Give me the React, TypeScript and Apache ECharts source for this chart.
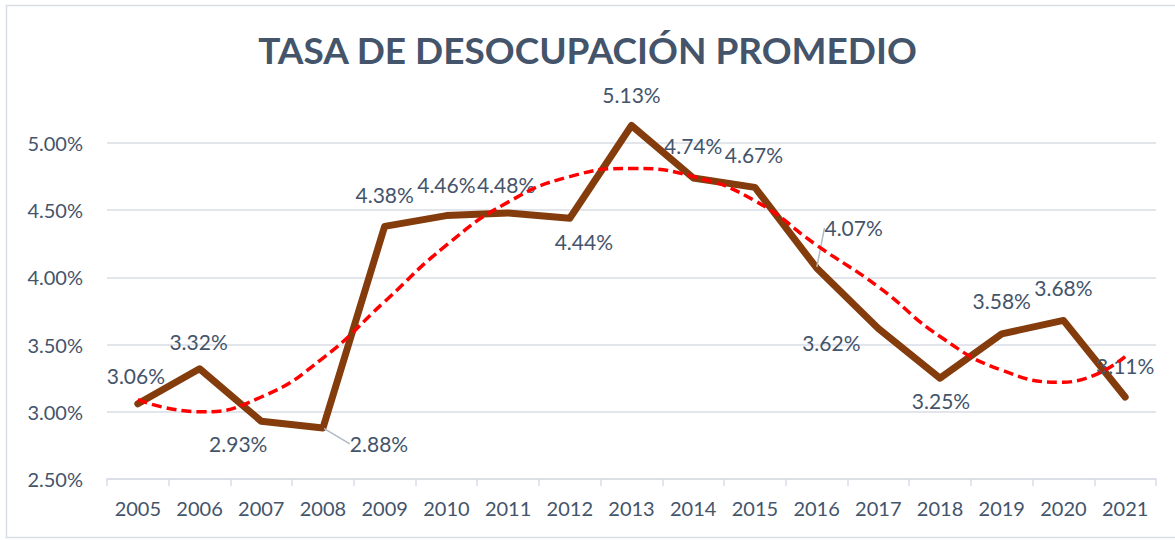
import React, { useEffect, useRef } from "react";
import * as echarts from "echarts";

const years = ["2005", "2006", "2007", "2008", "2009", "2010", "2011", "2012", "2013", "2014", "2015", "2016", "2017", "2018", "2019", "2020", "2021"];
const rates = [3.06, 3.32, 2.93, 2.88, 4.38, 4.46, 4.48, 4.44, 5.13, 4.74, 4.67, 4.07, 3.62, 3.25, 3.58, 3.68, 3.11];
const trend = [3.09, 3.0, 3.11, 3.4, 3.82, 4.24, 4.56, 4.75, 4.81, 4.75, 4.57, 4.24, 3.93, 3.56, 3.31, 3.22, 3.41];
const yTicks = { min: 2.5, max: 5.0, interval: 0.5 };
const titleText = "TASA DE DESOCUPACIÓN PROMEDIO";

// label placement (styling): offset from point, and whether a leader line is shown
const labelOffsets: [number, number][] = [
  [-2, -28], [-1, -27], [-23, 22], [56, 16], [0, -32], [0, -31], [-2, -28], [14, 23], [0, -31],
  [0, -32], [-1, -33], [37, -40], [-47, 14], [1, 22], [0, -33], [0, -33], [0, -32],
];
const leaderLines = [3, 11];

const TEXT = "#44546A";
const GRID = "#D9DEE6";
const FONT = "Lato, 'Open Sans', sans-serif";

export default function App() {
  const ref = useRef<HTMLDivElement>(null);
  useEffect(() => {
    if (!ref.current) return;
    const chart = echarts.init(ref.current, null, { renderer: "svg" });
    const option: any = {
      animation: false,
      backgroundColor: "#FFFFFF",
      textStyle: { fontFamily: FONT },
      title: {
        text: titleText,
        left: "center",
        top: 26,
        textStyle: { fontFamily: FONT, fontSize: 37, fontWeight: "bold", color: TEXT },
      },
      graphic: [
        {
          type: "rect",
          shape: { x: 6.5, y: 5.5, width: 1190, height: 532 },
          style: { fill: "none", stroke: GRID, lineWidth: 1.5 },
          silent: true,
          z: -10,
        },
      ],
      grid: { left: 107, right: 19, top: 143, bottom: 61, containLabel: false },
      xAxis: {
        type: "category",
        data: years,
        boundaryGap: true,
        axisLine: { show: true, lineStyle: { color: GRID, width: 1.5 } },
        axisTick: { show: true, length: 7, lineStyle: { color: GRID, width: 1.5 } },
        axisLabel: { color: TEXT, fontSize: 20, fontFamily: FONT, margin: 19 },
        splitLine: { show: false },
      },
      yAxis: {
        type: "value",
        min: yTicks.min,
        max: yTicks.max,
        interval: yTicks.interval,
        axisLine: { show: false },
        axisTick: { show: false },
        axisLabel: {
          color: TEXT,
          fontSize: 20,
          fontFamily: FONT,
          margin: 24,
          formatter: (v: number) => v.toFixed(2) + "%",
        },
        splitLine: { show: true, lineStyle: { color: GRID, width: 1.5 } },
      },
      series: [
        {
          type: "line",
          data: rates.map((v, i) => ({
            value: v,
            label: { offset: labelOffsets[i] },
            labelLine: { show: leaderLines.includes(i) },
          })),
          clip: false,
          symbol: "circle",
          symbolSize: 2,
          showSymbol: true,
          itemStyle: { color: "#843C0C" },
          lineStyle: { color: "#843C0C", width: 7, cap: "round", join: "round" },
          label: {
            show: true,
            position: "inside",
            align: "center",
            verticalAlign: "middle",
            color: TEXT,
            fontSize: 21,
            fontFamily: FONT,
            formatter: (p: any) => p.value.toFixed(2) + "%",
          },
          labelLine: { show: false, lineStyle: { color: "#B0BAC6", width: 1.5 } },
          z: 2,
        },
        {
          type: "line",
          data: trend,
          smooth: true,
          clip: false,
          symbol: "none",
          lineStyle: { color: "#FF0000", width: 3.5, type: [10, 5] },
          z: 3,
        },
      ],
    };
    chart.setOption(option);
    return () => chart.dispose();
  }, []);
  return (
    <div
      ref={ref}
      style={{ position: "absolute", left: 0, top: 0, width: 1175, height: 540 }}
    />
  );
}
